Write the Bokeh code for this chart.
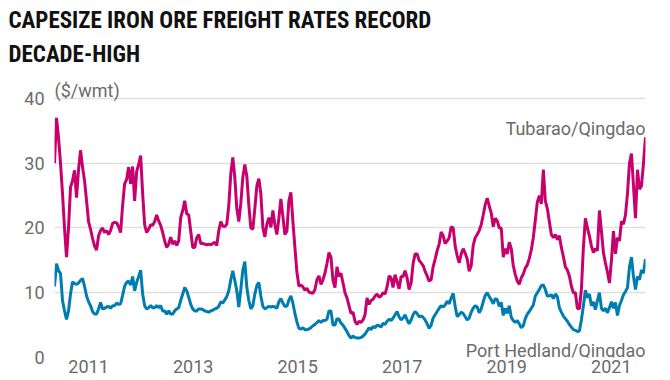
import pandas as pd
from bokeh.plotting import figure
from bokeh.models import ColumnDataSource, FixedTicker, DatetimeTickFormatter, Label, Range1d, Title
from bokeh.embed import file_html
from bokeh.resources import INLINE

# ---------------- data (fortnightly) ----------------
START_DATE = "2010-05-08"
STEP = "14D"

tubarao_qingdao = [
    30, 37, 34, 30, 25.3, 20, 15.5, 20, 26.3, 27.3,
    28.9, 24.7, 29, 32, 29.4, 27.3, 24.2, 21, 19.8, 18.4,
    17.2, 16.6, 18.8, 19.6, 20, 19.3, 19.6, 19, 19.6, 20.7,
    20.9, 20.8, 20.2, 19.3, 23.5, 26.8, 27.5, 29.4, 26.8, 29.5,
    24.2, 28.7, 29.8, 31.2, 25.3, 20.5, 19.3, 19.8, 20.5, 20.4,
    21, 22, 21.1, 20.4, 19.3, 18, 17, 17.5, 18.6, 17.5,
    18, 17.3, 18, 21.6, 22.7, 24.2, 22.2, 22, 19.5, 17,
    17, 18.5, 19, 17.6,
    17.6, 17.5, 17.4, 17.5, 17.4, 17.6, 17.8, 17.3, 19.6, 21,
    20.3, 20.2, 20.6, 23.5, 28.4, 30.9, 27.8, 23, 21, 23.8,
    27.8, 29.8, 28, 23.5, 20, 19.8, 23, 26.5, 27.6, 25.3,
    20.1, 18.6, 20.6, 21.6, 20.1, 22.7, 20.5, 19, 21.5, 24.5,
    21.8, 19, 19.5, 24.2, 25.5, 21, 17, 13.2, 11, 11.2,
    10.9, 10.4, 10.7, 10.1, 10, 9.9, 10.5, 12, 12.6, 11.3,
    12, 13, 14.5, 16.2, 15.5, 11.9, 10.8, 14, 12.5, 13,
    11.5, 10, 9.2, 8, 6.8,
    7, 5.6, 5.1, 5.6, 5.4, 5.8, 6.6, 9.2, 8.2, 8.8,
    9, 9.5, 9.8, 9.3, 9.5, 10, 9.8, 10.9, 12.6, 12.3,
    10.8, 12.8, 11.7, 10.6, 12.5, 12.5, 13.4, 12.3, 10.5, 11.5,
    14.5, 16, 16, 15, 14.6, 14.2, 13.3, 12.6, 11.8, 12,
    14, 15.2, 16.5, 17.5, 19.4, 18.8, 17.6, 18, 18.5, 20.2,
    20, 17.2, 15.7, 14.6, 16, 16.8, 16.1, 15.2, 13.3, 14.2,
    17.3, 18.5, 19, 19.6, 20.5, 22, 23.6, 24.6, 23.4, 22.3,
    20.2, 21.5, 21.1, 20,
    20, 15.5, 16.8, 16, 17.8, 16.8, 14.2, 12.8, 11.8, 11.3,
    12.3, 12.9, 13.8, 14.3, 15.3, 16.6, 18.5, 21.2, 24, 25,
    23.7, 29, 24.2, 23, 21, 19, 18.5, 19, 18.2, 18.8,
    17, 15.6, 14, 13.5, 12.6, 11, 10, 10, 7.6, 7.5,
    10.5, 17, 21.5, 20, 18.8, 17.2, 16.2, 16.8, 16.5, 22.7,
    19.5, 16.2, 14.6, 13.2, 11.5, 15, 19.5, 16, 18.5, 18,
    21, 20.6, 22, 25.3, 30, 31.5, 26.5, 21.5, 29, 26,
    26.5, 30, 34,
]

port_hedland_qingdao = [
    11, 14.5, 13.4, 13, 8.8, 7.2, 5.9, 7.2, 9.8, 11.7,
    11.4, 11.3, 11.5, 11.9, 12.2, 11, 9.5, 8.6, 8, 7.1,
    6.7, 6.7, 7.5, 8.5, 7.5, 7.6, 7.8, 7.9, 7.6, 8,
    8, 8.4, 8.2, 8.3, 9.6, 11, 11.6, 11.8, 11.2, 12.5,
    10.3, 11.6, 12.5, 13.5, 9.8, 8, 7.5, 7.7, 8, 7.7,
    7.7, 8, 7.7, 8, 7.2, 7.2, 6.7, 7.2, 6.7, 6.7,
    7.2, 7.5, 7.7, 8.8, 9.8, 10.8, 10.3, 9.3, 8.2, 7.5,
    7.2, 7.2, 7.5, 7.5,
    7.4, 7.2, 7.1, 7, 7.2, 7.3, 7.5, 7.6, 7.9, 8.6,
    8.4, 8.9, 9.4, 10.3, 12, 13.4, 11.9, 10.3, 7.8, 10.5,
    13.5, 14.8, 10.8, 8.8, 7.5, 8, 9.8, 11.1, 11.6, 9.5,
    7.9, 7.5, 7.7, 7.9, 7.8, 7.9, 7.8, 7.6, 8.6, 9.1,
    8.4, 7.9, 7.9, 8.9, 9.5, 8.4, 6.8, 5.5, 4.5, 4.4,
    4.6, 4.3, 4.3, 4.4, 4.6, 4.9, 5.1, 5.4, 5.7, 5.4,
    5.7, 5.7, 5.9, 7.2, 7.2, 5, 5, 6, 5.9, 5.3,
    5, 4.5, 4, 3.4, 3,
    3.3, 3.1, 3, 3, 3.1, 3.3, 3.6, 4.1, 4.6, 4.3,
    4.8, 4.6, 5, 4.9, 4.7, 5.3, 5.1, 5.6, 5.9, 5.7,
    6.1, 6.6, 7.1, 6.3, 5.8, 6.1, 6.6, 5.8, 5.2, 5.8,
    6.6, 7.1, 6.8, 6.3, 6.4, 6.2, 5.8, 5.2, 4.5, 5,
    6.1, 6.6, 7.1, 7.6, 8, 7.8, 8.1, 8.7, 8.3, 9.2,
    9.9, 7.9, 6.3, 6.6, 7, 6.8, 6.3, 5.8, 6.1, 7,
    7.6, 8, 7.8, 6.9, 7.5, 8.6, 9.6, 10, 9.4, 8.9,
    8.3, 9.1, 8.9, 7.9,
    8.5, 6.5, 7.6, 6.8, 8, 6.2, 5.7, 5.4, 5.7, 5.2,
    4.6, 4.9, 6, 6.7, 7.1, 7.6, 8.1, 9.5, 10, 10.5,
    11.1, 11.2, 10.5, 9.5, 9.5, 9.7, 9.1, 9.8, 9.4, 7.7,
    7, 6.4, 6, 5.6, 5.1, 4.7, 4.3, 4.2, 4, 4.1,
    5.8, 8, 10.4, 9.2, 9.8, 8, 8.6, 7.4, 8.8, 10,
    7.6, 7.2, 7.6, 6.9, 7.7, 8.6, 7.6, 8.5, 6.5, 8,
    8.8, 9.7, 10.2, 10.8, 14, 15.5, 12.5, 10.5, 12.5, 12,
    13.5, 13, 15.2,
]

y_ticks = [0, 10, 20, 30, 40]
x_tick_years = [2011, 2013, 2015, 2017, 2019, 2021]
title_lines = ["CAPESIZE IRON ORE FREIGHT RATES RECORD", "DECADE-HIGH"]
unit_label = "($/wmt)"
series_names = ["Tubarao/Qingdao", "Port Hedland/Qingdao"]

# ---------------- styling ----------------
MAGENTA = "#c8006e"
BLUE = "#007db0"
GRAY = "#6b6b6b"
GRID = "#e0e0e0"
FONT = "Roboto"
TITLE_FONT = "Roboto Condensed, DejaVu Sans Condensed, Roboto"

dates = pd.date_range(START_DATE, periods=len(tubarao_qingdao), freq=STEP)
src = ColumnDataSource(dict(date=dates, tub=tubarao_qingdao, hed=port_hedland_qingdao))

t0 = dates[0].value / 1e6
t1 = dates[-1].value / 1e6

p = figure(width=670, height=380, x_axis_type="datetime",
           output_backend="svg", toolbar_location=None,
           x_range=Range1d(t0, t1), y_range=Range1d(0, 44.32),
           min_border_left=54, min_border_right=25,
           min_border_top=70, min_border_bottom=23)
p.outline_line_color = None
p.background_fill_color = "white"
p.border_fill_color = "white"

p.line("date", "tub", source=src, line_color=MAGENTA, line_width=3)
p.line("date", "hed", source=src, line_color=BLUE, line_width=3)

# axes
xticks = [pd.Timestamp(f"{y}-01-01").value / 1e6 for y in x_tick_years]
p.xaxis.ticker = FixedTicker(ticks=xticks)
p.xaxis.formatter = DatetimeTickFormatter(years="%Y", months="%Y", days="%Y")
p.yaxis.ticker = FixedTicker(ticks=y_ticks)
for ax in (p.xaxis, p.yaxis):
    ax.axis_line_color = None
    ax.major_tick_line_color = None
    ax.minor_tick_line_color = None
    ax.major_tick_out = 0
    ax.major_tick_in = 0
    ax.major_label_text_font = FONT
    ax.major_label_text_font_size = "18px"
    ax.major_label_text_color = GRAY
p.xaxis.major_label_standoff = 2
p.yaxis.major_label_standoff = 10

p.xgrid.grid_line_color = None
p.ygrid.ticker = FixedTicker(ticks=y_ticks)
p.ygrid.grid_line_color = GRID
p.ygrid.grid_line_width = 1.5

# title (two lines, outermost added last)
for line in (title_lines[1], title_lines[0]):
    p.add_layout(Title(text=line, align="left", offset=-46, standoff=5,
                       text_font=TITLE_FONT, text_font_style="bold",
                       text_font_size="23px", text_color="#111111"), "above")

# texts inside the plot area
p.add_layout(Label(x=t0, y=41.3, x_offset=0, text=unit_label,
                   text_font=FONT, text_font_size="18px", text_color=GRAY,
                   text_baseline="alphabetic"))
p.add_layout(Label(x=t1, y=35.41, x_offset=0, text=series_names[0],
                   text_font=FONT, text_font_size="18px", text_color=GRAY,
                   text_align="right", text_baseline="alphabetic"))
p.add_layout(Label(x=t1, y=1.08, x_offset=0, text=series_names[1],
                   text_font=FONT, text_font_size="18px", text_color=GRAY,
                   text_align="right", text_baseline="alphabetic"))

open("out.html", "w").write(file_html(p, INLINE))
